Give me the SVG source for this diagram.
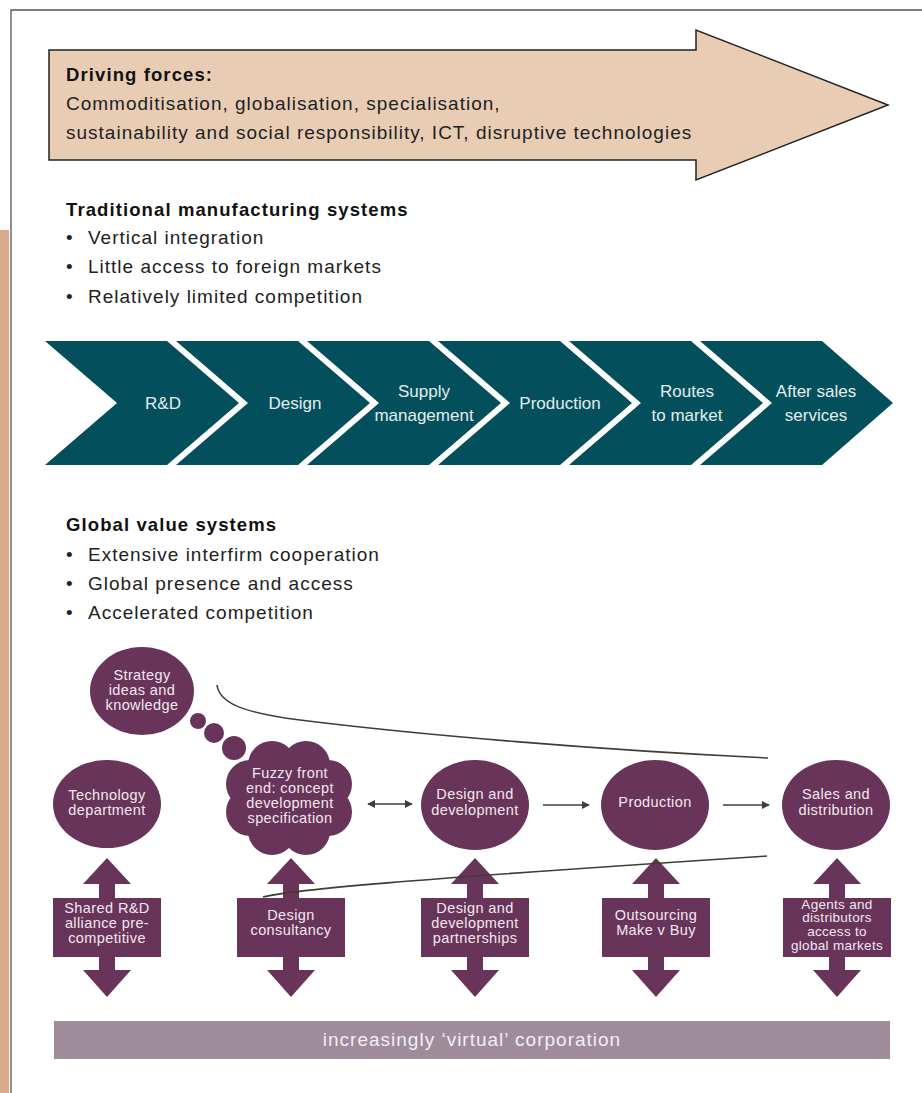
<svg xmlns="http://www.w3.org/2000/svg" width="922" height="1093" viewBox="0 0 922 1093">
<defs>
<style>
.t{font-family:"Liberation Sans",Arial,sans-serif;}
.h{font-family:"Liberation Sans",Arial,sans-serif;font-weight:bold;font-size:18.5px;letter-spacing:1.1px;fill:#111;}
.b{font-family:"Liberation Sans",Arial,sans-serif;font-size:19px;letter-spacing:1px;fill:#222;}
.chev{fill:#03505C;}
.ct{font-family:"Liberation Sans",Arial,sans-serif;font-size:17px;fill:#E4ECEE;text-anchor:middle;}
.pu{fill:#68345A;}
.nt{font-family:"Liberation Sans",Arial,sans-serif;font-size:14.5px;letter-spacing:0.4px;fill:#F2E8EF;text-anchor:middle;}
.sm{font-size:13.5px;letter-spacing:0.3px;}
.con{fill:none;stroke:#3E3E34;stroke-width:1.6;}
</style>
<marker id="ah" viewBox="0 0 10 10" refX="9" refY="5" markerWidth="5" markerHeight="5" orient="auto-start-reverse">
<path d="M0,0 L10,5 L0,10 z" fill="#3E3E34"/>
</marker>
</defs>
<rect width="922" height="1093" fill="#fff"/>
<rect x="0" y="230" width="9" height="863" fill="#D8A98A"/>
<path d="M11,1093 L11,10 L922,10" fill="none" stroke="#555" stroke-width="1.3"/>

<g id="driving-forces">
<path d="M49,50 L696,50 L696,30 L888,105 L696,180 L696,160 L49,160 Z" fill="#E8CDB4" stroke="#222" stroke-width="1.5"/>
<text class="h" x="66" y="81">Driving forces:</text>
<text class="b" x="66" y="110">Commoditisation, globalisation, specialisation,</text>
<text class="b" x="66" y="139">sustainability and social responsibility, ICT, disruptive technologies</text>
</g>

<g id="traditional">
<text class="h" x="66" y="216">Traditional manufacturing systems</text>
<text class="b" x="66" y="244">•</text><text class="b" x="88" y="244">Vertical integration</text>
<text class="b" x="66" y="273">•</text><text class="b" x="88" y="273">Little access to foreign markets</text>
<text class="b" x="66" y="303">•</text><text class="b" x="88" y="303">Relatively limited competition</text>
</g>

<g id="chain">
<g id="c-rd"><path class="chev" d="M45,341 L167,341 L239,403 L167,465 L45,465 L117,403 Z"/><text class="ct" x="163" y="409">R&amp;D</text></g>
<g id="c-design"><path class="chev" d="M176,341 L298,341 L370,403 L298,465 L176,465 L248,403 Z"/><text class="ct" x="295" y="409">Design</text></g>
<g id="c-supply"><path class="chev" d="M307,341 L429,341 L501,403 L429,465 L307,465 L379,403 Z"/><text class="ct" x="424" y="397">Supply</text><text class="ct" x="424" y="421">management</text></g>
<g id="c-production"><path class="chev" d="M438,341 L560,341 L632,403 L560,465 L438,465 L510,403 Z"/><text class="ct" x="560" y="409">Production</text></g>
<g id="c-routes"><path class="chev" d="M569,341 L691,341 L763,403 L691,465 L569,465 L641,403 Z"/><text class="ct" x="687" y="397">Routes</text><text class="ct" x="687" y="421">to market</text></g>
<g id="c-after"><path class="chev" d="M700,341 L822,341 L893,403 L822,465 L700,465 L772,403 Z"/><text class="ct" x="816" y="397">After sales</text><text class="ct" x="816" y="421">services</text></g>
</g>

<g id="global">
<text class="h" x="66" y="531">Global value systems</text>
<text class="b" x="66" y="561">•</text><text class="b" x="88" y="561">Extensive interfirm cooperation</text>
<text class="b" x="66" y="590">•</text><text class="b" x="88" y="590">Global presence and access</text>
<text class="b" x="66" y="619">•</text><text class="b" x="88" y="619">Accelerated competition</text>
</g>

<g id="strategy">
<ellipse class="pu" cx="142" cy="691" rx="52" ry="44"/>
<circle class="pu" cx="198" cy="721" r="8"/>
<circle class="pu" cx="214" cy="733" r="10"/>
<circle class="pu" cx="234" cy="748" r="12"/>
<text class="nt" x="142" y="680">Strategy</text>
<text class="nt" x="142" y="695">ideas and</text>
<text class="nt" x="142" y="710">knowledge</text>
</g>

<g id="technology">
<ellipse class="pu" cx="107" cy="804" rx="54" ry="44"/>
<text class="nt" x="107" y="800">Technology</text>
<text class="nt" x="107" y="815">department</text>
</g>

<g id="fuzzy">
<ellipse class="pu" cx="289" cy="798" rx="44" ry="40"/>
<circle class="pu" cx="272" cy="765" r="24"/>
<circle class="pu" cx="306" cy="765" r="24"/>
<circle class="pu" cx="328" cy="784" r="24"/>
<circle class="pu" cx="328" cy="812" r="24"/>
<circle class="pu" cx="306" cy="831" r="24"/>
<circle class="pu" cx="272" cy="831" r="24"/>
<circle class="pu" cx="250" cy="812" r="24"/>
<circle class="pu" cx="250" cy="784" r="24"/>
<text class="nt" x="290" y="778">Fuzzy front</text>
<text class="nt" x="290" y="793">end: concept</text>
<text class="nt" x="290" y="808">development</text>
<text class="nt" x="290" y="823">specification</text>
</g>

<g id="design-dev">
<ellipse class="pu" cx="475" cy="805" rx="54" ry="45"/>
<text class="nt" x="475" y="799">Design and</text>
<text class="nt" x="475" y="815">development</text>
</g>

<g id="production">
<ellipse class="pu" cx="655" cy="805" rx="54" ry="45"/>
<text class="nt" x="655" y="807">Production</text>
</g>

<g id="sales">
<ellipse class="pu" cx="836" cy="805" rx="54" ry="45"/>
<text class="nt" x="836" y="799">Sales and</text>
<text class="nt" x="836" y="815">distribution</text>
</g>

<g id="shared-rd">
<path class="pu" d="M107,858 L131,884 L115,884 L115,898 L161,898 L161,957 L115,957 L115,970 L131,970 L107,997 L83,970 L99,970 L99,957 L53,957 L53,898 L99,898 L99,884 L83,884 Z"/>
<text class="nt" x="107" y="913">Shared R&amp;D</text>
<text class="nt" x="107" y="928">alliance pre-</text>
<text class="nt" x="107" y="943">competitive</text>
</g>

<g id="design-consultancy">
<path class="pu" d="M291,858 L315,884 L299,884 L299,898 L345,898 L345,957 L299,957 L299,970 L315,970 L291,997 L267,970 L283,970 L283,957 L237,957 L237,898 L283,898 L283,884 L267,884 Z"/>
<text class="nt" x="291" y="920">Design</text>
<text class="nt" x="291" y="935">consultancy</text>
</g>

<g id="partnerships">
<path class="pu" d="M475,858 L499,884 L483,884 L483,898 L529,898 L529,957 L483,957 L483,970 L499,970 L475,997 L451,970 L467,970 L467,957 L421,957 L421,898 L467,898 L467,884 L451,884 Z"/>
<text class="nt" x="475" y="913">Design and</text>
<text class="nt" x="475" y="928">development</text>
<text class="nt" x="475" y="943">partnerships</text>
</g>

<g id="outsourcing">
<path class="pu" d="M656,858 L680,884 L664,884 L664,898 L710,898 L710,957 L664,957 L664,970 L680,970 L656,997 L632,970 L648,970 L648,957 L602,957 L602,898 L648,898 L648,884 L632,884 Z"/>
<text class="nt" x="656" y="920">Outsourcing</text>
<text class="nt" x="656" y="935">Make v Buy</text>
</g>

<g id="agents">
<path class="pu" d="M837,858 L861,884 L845,884 L845,898 L891,898 L891,957 L845,957 L845,970 L861,970 L837,997 L813,970 L829,970 L829,957 L783,957 L783,898 L829,898 L829,884 L813,884 Z"/>
<text class="nt sm" x="837" y="909">Agents and</text>
<text class="nt sm" x="837" y="922">distributors</text>
<text class="nt sm" x="837" y="936">access to</text>
<text class="nt sm" x="837" y="950">global markets</text>
</g>

<g id="connectors">
<path class="con" d="M217,685 C219,700 235,712 300,720 C420,735 600,750 768,758"/>
<path class="con" d="M263,897 C290,890 400,880 767,856"/>
<line class="con" x1="368" y1="804" x2="412" y2="804" marker-start="url(#ah)" marker-end="url(#ah)"/>
<line class="con" x1="543" y1="805" x2="589" y2="805" marker-end="url(#ah)"/>
<line class="con" x1="723" y1="805" x2="769" y2="805" marker-end="url(#ah)"/>
</g>

<g id="virtual-bar">
<rect x="54" y="1021" width="836" height="38" fill="#9E8C9A"/>
<text class="t" x="472" y="1046" font-size="19" letter-spacing="1" fill="#F4EEF2" text-anchor="middle">increasingly ‘virtual’ corporation</text>
</g>
</svg>
